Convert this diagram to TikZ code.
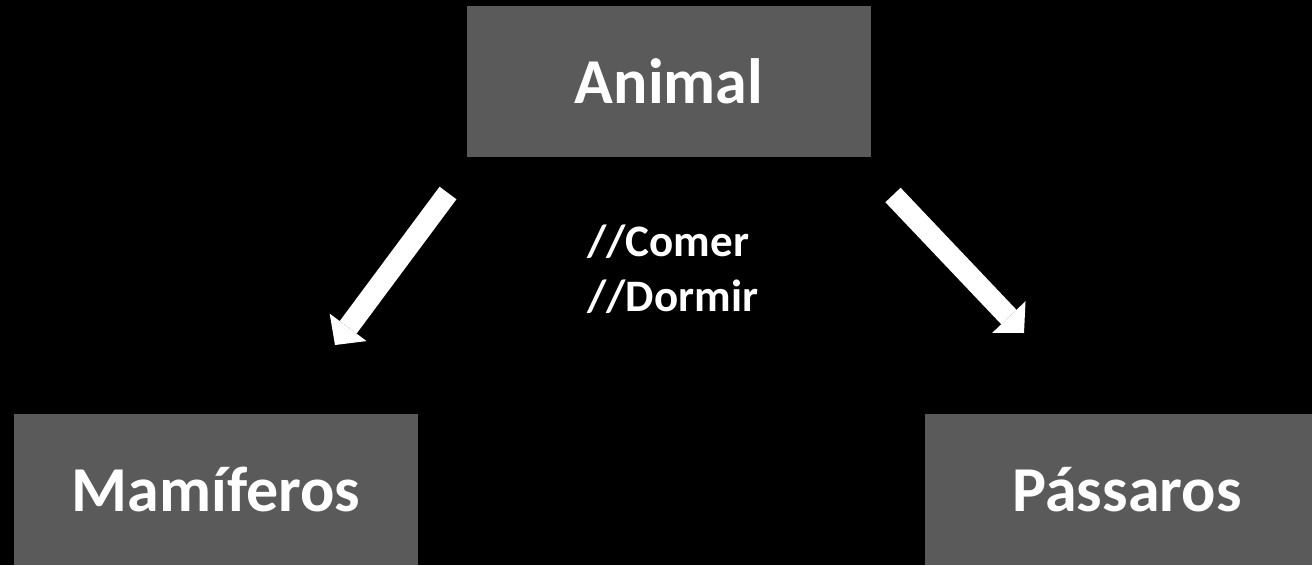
\documentclass[tikz,border=0pt]{standalone}
\usepackage{fontspec}
\setmainfont{Carlito}
\usetikzlibrary{arrows.meta}
\definecolor{boxgray}{RGB}{90,90,90}
\tikzset{
  classbox/.style={fill=boxgray, draw=none, minimum width=404pt, minimum height=151pt,
    inner sep=0pt, text=white, font=\fontsize{64}{76}\selectfont\bfseries},
  blockarrow/.style={draw=white, line width=21pt, line cap=butt,
    -{Triangle[length=22pt, width=46pt, line width=0pt, fill=white]}},
  note/.style={text=white, align=left, inner sep=0pt,
    font=\fontsize{45}{55}\selectfont\bfseries}
}
\begin{document}
\begin{tikzpicture}[x=1pt, y=-1pt]
  \fill[black] (0,0) rectangle (1312,565);
  \useasboundingbox (0,0) rectangle (1312,565);
  \clip (0,0) rectangle (1312,565);

  % class hierarchy boxes
  \node[classbox] (animal) at (669,81.5) {Animal};
  \node[classbox] (mamiferos) at (216,489.5) {Mamíferos};
  \node[classbox] (passaros) at (1127,489.5) {Pássaros};

  % shared behaviour
  \node[note, anchor=west] (metodos) at (587,269) {//Comer\\//Dormir};

  % inheritance arrows
  \coordinate (l0) at (448,193);
  \coordinate (l1) at (335,345);
  \coordinate (r0) at (893,195);
  \coordinate (r1) at (1024,333);
  \draw[blockarrow] (l0) -- (l1);
  \draw[blockarrow] (r0) -- (r1);
\end{tikzpicture}
\end{document}
